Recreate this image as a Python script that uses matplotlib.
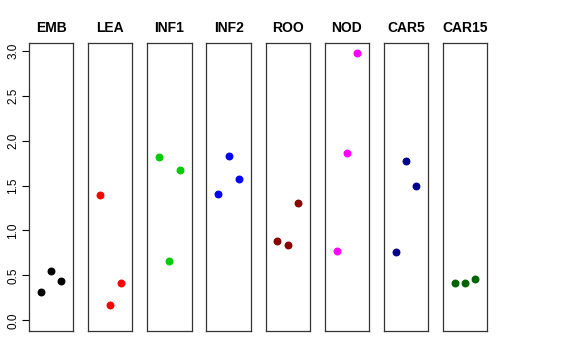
import numpy as np
import matplotlib.pyplot as plt

plt.rcParams['font.family'] = ['Liberation Sans', 'DejaVu Sans']

tissues = ['EMB', 'LEA', 'INF1', 'INF2', 'ROO', 'NOD', 'CAR5', 'CAR15']
colors = ['black', 'red', '#00CD00', 'blue', '#8B0000', 'magenta', '#00008B', '#006400']
reps = [1, 2, 3]

emb = [0.32, 0.55, 0.44]
lea = [1.39, 0.17, 0.41]
inf1 = [1.82, 0.66, 1.67]
inf2 = [1.41, 1.83, 1.57]
roo = [0.88, 0.84, 1.30]
nod = [0.77, 1.86, 2.97]
car5 = [0.76, 1.77, 1.49]
car15 = [0.41, 0.42, 0.46]
values = [emb, lea, inf1, inf2, roo, nod, car5, car15]

fig = plt.figure(figsize=(5.76, 3.6), dpi=100)
W, H = 576, 360
left0, step, width = 29, 59.14, 44.3
top, bottom = 42.7, 331

for i, (name, col, vals) in enumerate(zip(tissues, colors, values)):
    ax = fig.add_axes([(left0 + step * i) / W, 1 - bottom / H, width / W, (bottom - top) / H])
    ax.scatter(reps, vals, s=22, color=col, zorder=3)
    ax.set_xlim(-0.16, 4.16)
    ax.set_ylim(-0.119, 3.089)
    ax.set_xticks([])
    ax.set_title(name, fontsize=10, fontweight='bold', pad=7.5)
    for sp in ax.spines.values():
        sp.set_linewidth(0.9)
        sp.set_color('#333333')
    if i == 0:
        ax.set_yticks(np.arange(0, 3.01, 0.5))
        ax.set_yticklabels(['0.0', '0.5', '1.0', '1.5', '2.0', '2.5', '3.0'],
                           rotation=90, va='center', fontsize=8.5)
        ax.tick_params(axis='y', length=5, width=0.8, pad=2)
    else:
        ax.set_yticks([])

fig.savefig('out.png', dpi=100)
